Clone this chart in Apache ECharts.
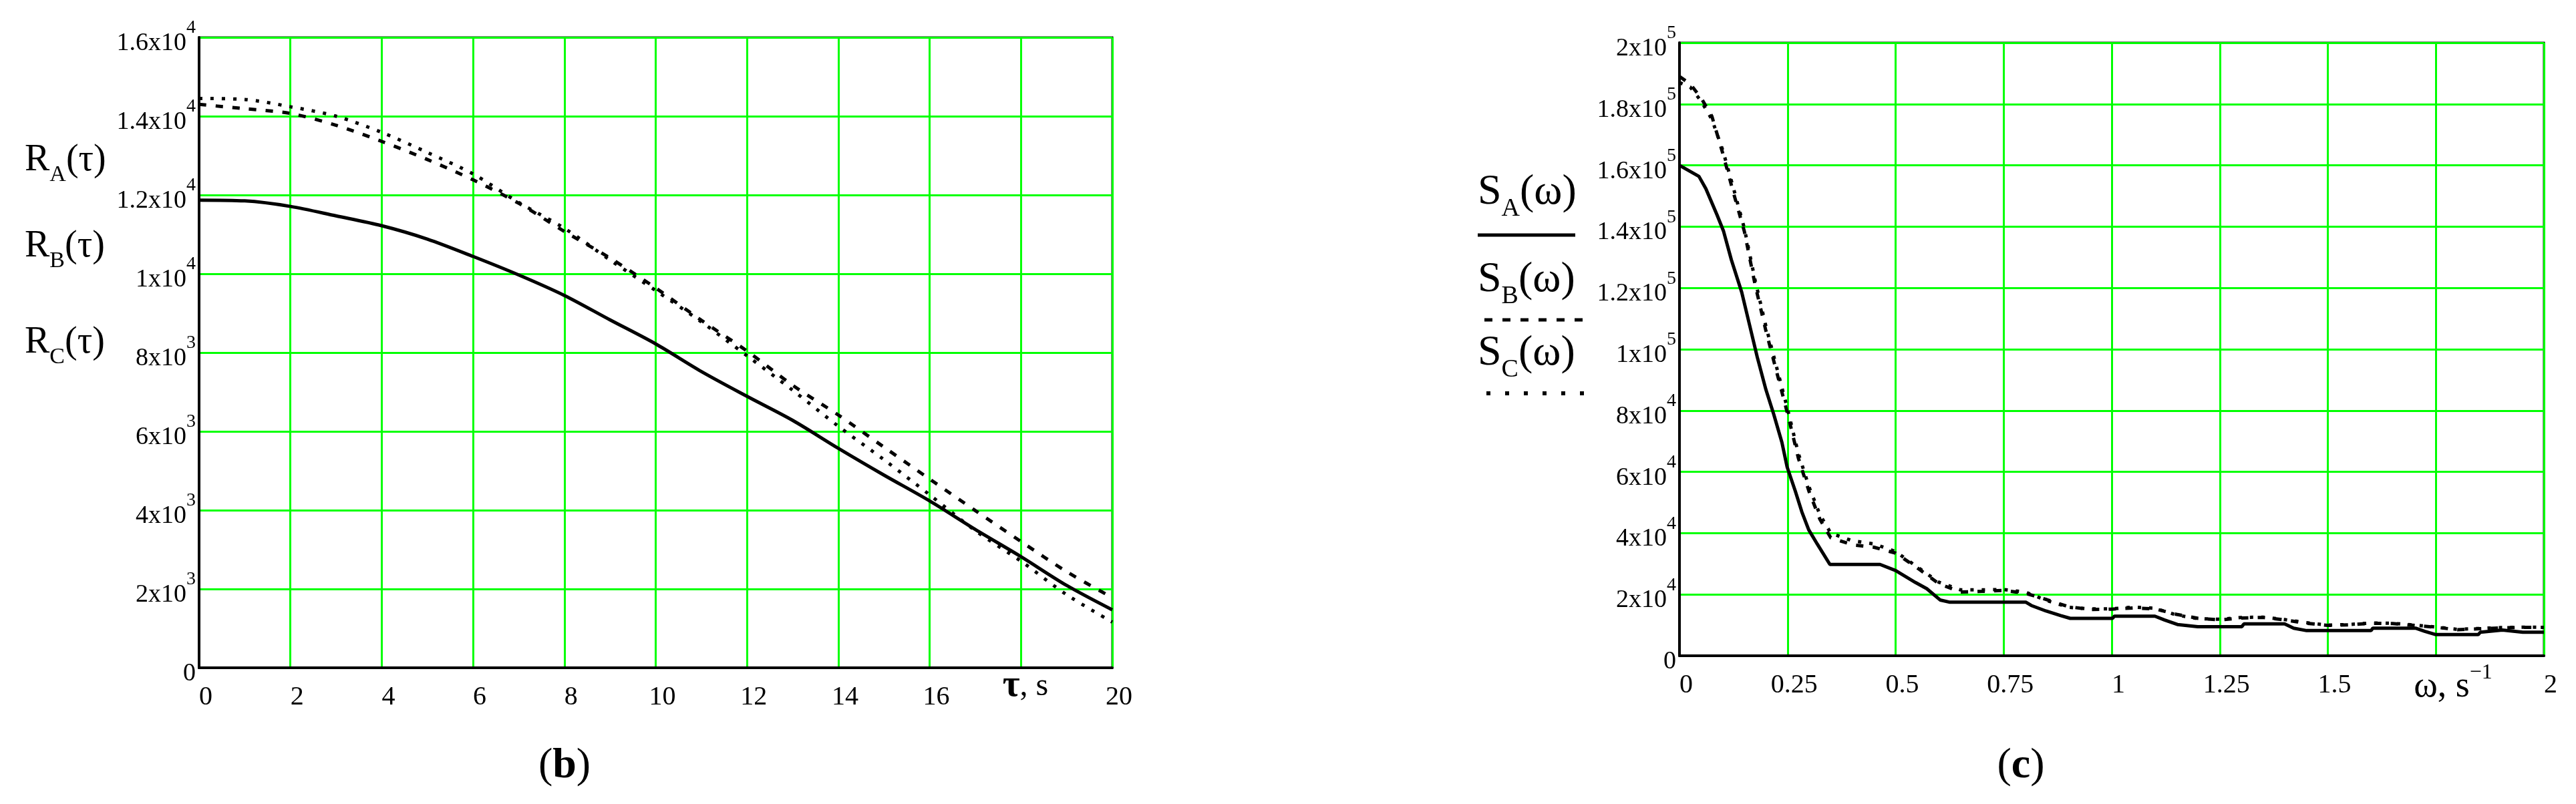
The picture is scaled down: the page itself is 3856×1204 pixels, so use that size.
<!DOCTYPE html>
<html><head><meta charset="utf-8">
<script src="https://cdn.jsdelivr.net/npm/echarts@6/dist/echarts.min.js"></script>
<style>html,body{margin:0;padding:0;background:#fff}#c{width:3856px;height:1204px}</style>
</head><body><div id="c"></div>
<script>
// ---------- Panel (b): correlation functions ----------
const tau = [0,1,2,3,4,5,6,7,8,9,10,11,12,13,14,15,16,17,18,19,20];
const R_A = [11870,11850,11710,11470,11220,10880,10440,9970,9450,8830,8220,7520,6890,6280,5570,4890,4235,3510,2820,2090,1470];
const R_B = [14300,14190,14070,13770,13360,12900,12385,11790,11075,10400,9640,8820,8040,7170,6415,5600,4790,3990,3205,2440,1780];
const R_C = [14450,14425,14240,14000,13590,13080,12535,11810,11155,10350,9575,8780,7920,7045,6130,5280,4390,3480,2705,1855,1160];
const tauTickLabels = ['0','2','4','6','8','10','12','14','16','','20'];
const rTickLabels = ['0','2x10^3','4x10^3','6x10^3','8x10^3','1x10^4','1.2x10^4','1.4x10^4','1.6x10^4'];

// ---------- Panel (c): spectral densities ----------
const omegaA = [0,0.045,0.061,0.087,0.102,0.120,0.144,0.162,0.180,0.200,0.218,0.237,0.249,0.268,0.283,0.299,0.319,0.348,0.464,0.5,0.546,0.572,0.603,0.624,0.801,0.814,0.848,0.882,0.904,1.002,1.006,1.100,1.122,1.152,1.199,1.301,1.306,1.400,1.421,1.451,1.600,1.604,1.703,1.724,1.750,1.848,1.853,1.904,1.951,2.0];
const S_A = [160000,156400,152400,143800,138500,129200,118600,108000,97400,86800,78800,69600,61600,53700,47000,41100,36400,29800,29800,27800,23900,21900,18200,17500,17500,16400,14600,13100,12200,12200,12900,12900,11700,10200,9500,9500,10400,10400,9000,8200,8200,9000,9000,8000,6900,6900,7700,8400,7700,7700];
const omegaBC = [0,0.025,0.05,0.075,0.1,0.125,0.15,0.175,0.2,0.225,0.25,0.275,0.3,0.325,0.35,0.4,0.45,0.5,0.55,0.6,0.65,0.7,0.75,0.8,0.85,0.9,0.95,1.0,1.05,1.1,1.15,1.2,1.25,1.3,1.35,1.4,1.45,1.5,1.55,1.6,1.65,1.7,1.75,1.8,1.85,1.9,1.95,2.0];
const S_B = [189000,186500,182000,176000,164000,151000,138500,121000,106000,92500,79000,64500,53500,44500,38500,36200,35400,33500,28700,23500,20800,21000,21300,20400,18300,16000,15100,15200,15600,15300,13500,12200,11700,12300,12500,11700,10600,9900,10100,10600,10500,9900,9300,8500,8800,9100,9270,9270];
const S_C = [187000,185500,181000,175000,165000,152500,139500,122500,107500,94000,80500,66000,55000,46000,40000,37500,36500,34000,29000,24000,21500,21500,21600,20800,18000,15800,15300,15300,15900,15500,13300,12100,11900,12500,12600,11800,10800,10000,10200,10700,10600,10000,9400,8600,8900,9200,9300,9300];
const omegaTickLabels = ['0','0.25','0.5','0.75','1','1.25','1.5','','2'];
const sTickLabels = ['0','2x10^4','4x10^4','6x10^4','8x10^4','1x10^5','1.2x10^5','1.4x10^5','1.6x10^5','1.8x10^5','2x10^5'];

const FF = 'Liberation Serif';
const GREEN = '#00ff00';

function sciRich(s) {
  if (s.indexOf('^') < 0) return '{m|' + s + '}';
  const p = s.split('^');
  return '{m|' + p[0] + '}{s|' + p[1] + '}';
}
const yRich = {
  m: {fontFamily: FF, fontSize: 38, color: '#000', lineHeight: 56, verticalAlign: 'bottom'},
  s: {fontFamily: FF, fontSize: 28, color: '#000', lineHeight: 56, verticalAlign: 'top'}
};
function pairs(xs, ys) { return xs.map((x, i) => [x, ys[i]]); }

const chart = echarts.init(document.getElementById('c'), null, {renderer: 'canvas'});

const baseX = (idx, min, max, interval, labels, nameStr, nameGap, nameRich, namePad) => ({
  type: 'value', gridIndex: idx, min: min, max: max, interval: interval,
  axisLine: {show: true, onZero: false, lineStyle: {color: '#000', width: 4}},
  axisTick: {show: false},
  splitLine: {show: true, lineStyle: {color: GREEN, width: 3}},
  axisLabel: {
    show: true, margin: 24, fontFamily: FF, fontSize: 40, color: '#000',
    padding: [0, 0, 0, 20],
    formatter: v => labels[Math.round(v / interval)] || ''
  },
  name: nameStr, nameLocation: 'end', nameGap: nameGap,
  nameTextStyle: {align: 'center', verticalAlign: 'top', padding: namePad, rich: nameRich}
});
const baseY = (idx, max, interval, labels) => ({
  type: 'value', gridIndex: idx, min: 0, max: max, interval: interval,
  axisLine: {show: true, onZero: false, lineStyle: {color: '#000', width: 4}},
  axisTick: {show: false},
  splitLine: {show: true, lineStyle: {color: GREEN, width: 3}},
  axisLabel: {
    show: true, margin: 5, align: 'right',
    formatter: v => sciRich(labels[Math.round(v / interval)] || ''),
    rich: yRich
  }
});

const option = {
  backgroundColor: '#fff',
  animation: false,
  grid: [
    {left: 298, top: 56, width: 1367, height: 944, show: true, borderColor: '#000', borderWidth: 3, backgroundColor: 'transparent'},
    {left: 2514, top: 64, width: 1294, height: 918, show: true, borderColor: '#000', borderWidth: 3, backgroundColor: 'transparent'}
  ],
  xAxis: [
    baseX(0, 0, 20, 2, tauTickLabels, '{t|τ}{r|, s}', -130,
      {t: {fontFamily: FF, fontSize: 56, fontWeight: 'bold', color: '#000'},
       r: {fontFamily: FF, fontSize: 48, color: '#000'}}, [0, 0, 0, 0]),
    baseX(1, 0, 2, 0.25, omegaTickLabels, '{w|ω, s}{sup|−1}', -136,
      {w: {fontFamily: FF, fontSize: 54, color: '#000', lineHeight: 64, verticalAlign: 'bottom'},
       sup: {fontFamily: FF, fontSize: 32, color: '#000', lineHeight: 64, verticalAlign: 'top'}}, [10, 0, 0, 0])
  ],
  yAxis: [
    baseY(0, 16000, 2000, rTickLabels),
    baseY(1, 200000, 20000, sTickLabels)
  ],
  series: [
    {name: 'R_A(τ)', type: 'line', xAxisIndex: 0, yAxisIndex: 0, data: pairs(tau, R_A), smooth: 0.3,
     symbol: 'none', lineStyle: {color: '#000', width: 5, type: 'solid'}},
    {name: 'R_B(τ)', type: 'line', xAxisIndex: 0, yAxisIndex: 0, data: pairs(tau, R_B), smooth: 0.3,
     symbol: 'none', lineStyle: {color: '#000', width: 5, type: [11, 14]}},
    {name: 'R_C(τ)', type: 'line', xAxisIndex: 0, yAxisIndex: 0, data: pairs(tau, R_C), smooth: 0.3,
     symbol: 'none', lineStyle: {color: '#000', width: 5, type: [5, 12]}},
    {name: 'S_A(ω)', type: 'line', xAxisIndex: 1, yAxisIndex: 1, data: pairs(omegaA, S_A),
     symbol: 'none', lineStyle: {color: '#000', width: 5, type: 'solid'}},
    {name: 'S_B(ω)', type: 'line', xAxisIndex: 1, yAxisIndex: 1, data: pairs(omegaBC, S_B),
     symbol: 'none', lineStyle: {color: '#000', width: 5, type: [11, 14]}},
    {name: 'S_C(ω)', type: 'line', xAxisIndex: 1, yAxisIndex: 1, data: pairs(omegaBC, S_C),
     symbol: 'none', lineStyle: {color: '#000', width: 5, type: [5, 12]}}
  ],
  graphic: (function () {
    const legRichL = {
      m: {fontFamily: FF, fontSize: 56, color: '#000', lineHeight: 78, verticalAlign: 'middle'},
      b: {fontFamily: FF, fontSize: 34, color: '#000', lineHeight: 78, verticalAlign: 'bottom'}
    };
    const legRichR = {
      m: {fontFamily: FF, fontSize: 64, color: '#000', lineHeight: 88, verticalAlign: 'middle'},
      b: {fontFamily: FF, fontSize: 38, color: '#000', lineHeight: 88, verticalAlign: 'bottom'}
    };
    const els = [];
    const leftLeg = [['A', 251], ['B', 380], ['C', 524]];
    leftLeg.forEach(([k, y]) => els.push({type: 'text', left: 37, top: y - 39, silent: true,
      style: {text: '{m|R}{b|' + k + '}{m|(τ)}', rich: legRichL}}));
    const rightLeg = [['A', 300], ['B', 431], ['C', 541]];
    rightLeg.forEach(([k, y]) => els.push({type: 'text', left: 2212, top: y - 44, silent: true,
      style: {text: '{m|S}{b|' + k + '}{m|(ω)}', rich: legRichR}}));
    els.push({type: 'line', silent: true, shape: {x1: 2212, y1: 352, x2: 2358, y2: 352},
      style: {stroke: '#000', lineWidth: 5}});
    els.push({type: 'line', silent: true, shape: {x1: 2222, y1: 479, x2: 2372, y2: 479},
      style: {stroke: '#000', lineWidth: 5, lineDash: [12, 15]}});
    els.push({type: 'line', silent: true, shape: {x1: 2225, y1: 589, x2: 2384, y2: 589},
      style: {stroke: '#000', lineWidth: 6, lineDash: [6, 22]}});
    const capRich = {
      p: {fontFamily: FF, fontSize: 64, color: '#000'},
      b: {fontFamily: FF, fontSize: 64, fontWeight: 'bold', color: '#000'}
    };
    els.push({type: 'text', x: 845, y: 1147, silent: true,
      style: {text: '{p|(}{b|b}{p|)}', rich: capRich, align: 'center', verticalAlign: 'middle'}});
    els.push({type: 'text', x: 3025, y: 1147, silent: true,
      style: {text: '{p|(}{b|c}{p|)}', rich: capRich, align: 'center', verticalAlign: 'middle'}});
    return els;
  })()
};
chart.setOption(option);
</script>
</body></html>
